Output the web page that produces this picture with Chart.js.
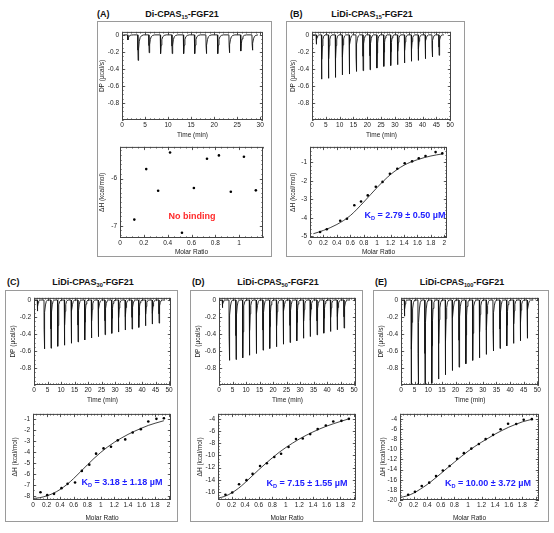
<!DOCTYPE html>
<html><head><meta charset="utf-8">
<script src="https://cdn.jsdelivr.net/npm/chart.js@4.4.1/dist/chart.umd.min.js"></script>
<style>
body{margin:0;background:#fff;width:554px;height:533px;position:relative;overflow:hidden;font-family:"Liberation Sans",Arial,sans-serif;color:#111;}
.box{position:absolute;border:1.5px solid #9a9a9a;box-sizing:border-box;}
.lbl{position:absolute;font-weight:bold;font-size:9px;line-height:1;transform:translateY(-50%);white-space:nowrap;}
.ttl{position:absolute;font-weight:bold;font-size:9px;line-height:1;transform:translate(-50%,-50%);white-space:nowrap;}
sub{font-size:62%;vertical-align:baseline;position:relative;top:0.35em;line-height:0;}
canvas{position:absolute;}
.kd{position:absolute;color:#2020ff;font-weight:bold;font-size:9px;line-height:1;transform:translate(-50%,-50%);white-space:nowrap;}
.nb{position:absolute;color:#ff2a2a;font-weight:bold;font-size:9px;line-height:1;transform:translate(-50%,-50%);white-space:nowrap;}
</style></head><body>
<div class="box" style="left:97px;top:21px;width:175px;height:236px"></div>
<div class="box" style="left:286px;top:21px;width:179px;height:236px"></div>
<div class="box" style="left:5px;top:290px;width:173px;height:232px"></div>
<div class="box" style="left:190px;top:290px;width:173px;height:232px"></div>
<div class="box" style="left:373px;top:290px;width:176px;height:232px"></div>

<div class="lbl" style="left:97px;top:14px">(A)</div>
<div class="ttl" style="left:182px;top:14px">Di-CPAS<sub>15</sub>-FGF21</div>
<div class="lbl" style="left:290px;top:14px">(B)</div>
<div class="ttl" style="left:372px;top:14px">LiDi-CPAS<sub>15</sub>-FGF21</div>
<div class="lbl" style="left:7px;top:282px">(C)</div>
<div class="ttl" style="left:93px;top:282px">LiDi-CPAS<sub>30</sub>-FGF21</div>
<div class="lbl" style="left:192px;top:282px">(D)</div>
<div class="ttl" style="left:278px;top:282px">LiDi-CPAS<sub>50</sub>-FGF21</div>
<div class="lbl" style="left:375px;top:282px">(E)</div>
<div class="ttl" style="left:462px;top:282px">LiDi-CPAS<sub>100</sub>-FGF21</div>

<script>
// ---------- DATA ----------
// Thermograms: injection times (min) and peak DP (µcal/s)
const A_TIMES = [1.2,3.4,5.8,8.3,10.8,13.3,15.7,18.2,20.7,23.2,25.7,28.2];
const A_PEAKS = [-0.06,-0.30,-0.21,-0.22,-0.22,-0.22,-0.22,-0.22,-0.22,-0.21,-0.19,-0.18];
const B_TIMES = [1.5,3.4,5.9,8.4,10.9,13.4,15.9,18.4,20.9,23.4,25.9,28.4,30.9,33.4,35.9,38.4,40.9,43.4,45.9];
const B_PEAKS = [-0.11,-0.52,-0.51,-0.50,-0.47,-0.46,-0.43,-0.42,-0.41,-0.39,-0.37,-0.36,-0.35,-0.33,-0.31,-0.30,-0.28,-0.26,-0.24];
const C_TIMES = [1.2,3.7,6.2,8.7,11.2,13.7,16.2,18.7,21.2,23.7,26.2,28.7,31.2,33.7,36.2,38.7,41.2,43.7,46.2];
const C_PEAKS = [-0.13,-0.575,-0.567,-0.544,-0.532,-0.509,-0.493,-0.47,-0.447,-0.431,-0.408,-0.392,-0.377,-0.353,-0.342,-0.322,-0.303,-0.283,-0.272];
const D_TIMES = [1.2,3.7,6.2,8.7,11.2,13.7,16.2,18.7,21.2,23.7,26.2,28.7,31.2,33.7,36.2,38.7,41.2,43.7,46.2];
const D_PEAKS = [-0.09,-0.71,-0.70,-0.68,-0.65,-0.63,-0.59,-0.57,-0.55,-0.52,-0.50,-0.48,-0.45,-0.43,-0.41,-0.39,-0.37,-0.35,-0.33];
const E_TIMES = [1.2,3.7,6.2,8.7,11.2,13.7,16.2,18.7,21.2,23.7,26.2,28.7,31.2,33.7,36.2,38.7,41.2,43.7,46.2];
const E_PEAKS = [-0.19,-1.05,-1.05,-1.05,-0.98,-0.93,-0.88,-0.83,-0.79,-0.75,-0.71,-0.68,-0.64,-0.60,-0.57,-0.54,-0.51,-0.48,-0.45];

// Isotherms: molar ratio, ΔH (kcal/mol), and fitted curve
const A_X = [0.12,0.22,0.32,0.42,0.52,0.62,0.73,0.83,0.93,1.04,1.14];
const A_Y = [-6.87,-5.80,-6.26,-5.45,-7.15,-6.20,-5.58,-5.51,-6.28,-5.54,-6.25];

const B_X = [0.15,0.25,0.45,0.55,0.66,0.76,0.86,0.98,1.08,1.19,1.30,1.41,1.52,1.62,1.72,1.87,1.97];
const B_Y = [-4.77,-4.62,-4.16,-4.05,-3.32,-3.12,-2.79,-2.32,-2.06,-1.62,-1.35,-1.05,-0.95,-0.78,-0.66,-0.45,-0.52];
const B_FIT_X = [0.05,0.2,0.4,0.6,0.8,1.0,1.2,1.4,1.6,1.8,1.97];
const B_FIT_Y = [-4.86,-4.68,-4.36,-3.88,-3.15,-2.36,-1.66,-1.16,-0.86,-0.66,-0.55];

const C_X = [0.11,0.21,0.31,0.42,0.51,0.62,0.72,0.83,0.93,1.04,1.15,1.25,1.36,1.47,1.59,1.70,1.82,1.93];
const C_Y = [-7.68,-7.95,-7.83,-7.31,-6.92,-6.80,-5.74,-5.17,-4.17,-3.69,-3.54,-2.96,-2.87,-2.24,-1.94,-1.24,-1.00,-0.94];
const C_FIT_X = [0,0.1,0.2,0.3,0.4,0.5,0.6,0.7,0.8,0.9,1.0,1.1,1.2,1.3,1.4,1.5,1.6,1.7,1.8,1.93];
const C_FIT_Y = [-8.25,-8.18,-8.02,-7.78,-7.43,-6.98,-6.43,-5.82,-5.2,-4.6,-4.05,-3.56,-3.13,-2.76,-2.42,-2.12,-1.85,-1.6,-1.4,-1.17];

const D_X = [0.11,0.21,0.31,0.42,0.51,0.62,0.72,0.83,0.93,1.04,1.15,1.25,1.36,1.47,1.59,1.70,1.82,1.93];
const D_Y = [-16.45,-16.07,-14.71,-14.05,-13.02,-11.72,-11.28,-10.25,-9.71,-8.62,-7.32,-7.21,-6.50,-5.68,-5.09,-4.43,-4.33,-4.00];
const D_FIT_X = [0,0.1,0.2,0.3,0.4,0.5,0.6,0.7,0.8,0.9,1.0,1.2,1.4,1.6,1.8,1.93];
const D_FIT_Y = [-17.0,-16.7,-16.15,-15.4,-14.45,-13.4,-12.35,-11.35,-10.4,-9.5,-8.7,-7.3,-6.15,-5.2,-4.45,-4.0];

const E_X = [0.12,0.22,0.32,0.43,0.53,0.63,0.73,0.84,0.94,1.05,1.16,1.26,1.37,1.48,1.59,1.71,1.82,1.94];
const E_Y = [-18.97,-18.39,-17.23,-16.58,-15.29,-14.19,-13.29,-11.87,-10.77,-9.87,-8.97,-8.00,-7.16,-6.06,-4.97,-5.03,-4.19,-4.06];
const E_FIT_X = [0,0.1,0.2,0.3,0.4,0.5,0.6,0.7,0.8,0.9,1.0,1.1,1.2,1.3,1.4,1.5,1.6,1.7,1.8,1.94];
const E_FIT_Y = [-19.5,-19.2,-18.65,-17.85,-16.95,-15.9,-14.8,-13.65,-12.55,-11.45,-10.4,-9.45,-8.6,-7.8,-7.0,-6.3,-5.65,-5.1,-4.6,-4.1];

// Tick labels
const DP_TICKS = [0,-0.2,-0.4,-0.6,-0.8];
const TIME_TICKS_30 = [0,5,10,15,20,25,30];
const TIME_TICKS_50 = [0,5,10,15,20,25,30,35,40,45,50];
const MR_TICKS_1 = [0,0.2,0.4,0.6,0.8,1];
const MR_TICKS_2 = [0,0.2,0.4,0.6,0.8,1,1.2,1.4,1.6,1.8,2];
const A_DH_TICKS = [-6,-7];
const B_DH_TICKS = [-1,-2,-3,-4,-5];
const C_DH_TICKS = [-1,-2,-3,-4,-5,-6,-7,-8];
const D_DH_TICKS = [-4,-6,-8,-10,-12,-14,-16];
const E_DH_TICKS = [-4,-6,-8,-10,-12,-14,-16,-18,-20];

// ---------- RENDER ----------
const FONT = "'Liberation Sans', Arial, sans-serif";
Chart.defaults.font.family = FONT;
Chart.defaults.font.size = 6.5;
Chart.defaults.color = '#222';
const LH = 6.5 * 1.2;

// spike profile (relative time, fraction of peak) used to draw each injection
const SPIKE = [[0,0],[0.05,0.6],[0.1,1],[0.2,0.55],[0.35,0.25],[0.55,0.1],[0.85,0.03],[1.3,0]];
function trace(times, peaks, t0, t1){
  const pts = [{x:t0, y:0}];
  times.forEach((t,i) => SPIKE.forEach(([dt,f]) => pts.push({x:t+dt, y:peaks[i]*f})));
  pts.push({x:t1, y:0});
  return pts;
}
function pairs(xs, ys){ return xs.map((x,i) => ({x, y:ys[i]})); }
function fmt(v){ const r = Math.round(v*1000)/1000; return (Object.is(r,-0) ? 0 : r).toString(); }

const frameTicks = {
  id:'frameTicks',
  afterDatasetsDraw(chart, args, o){
    const {ctx, chartArea:{left,right,top,bottom}, scales:{x,y}} = chart;
    ctx.save();
    ctx.strokeStyle = '#333';
    ctx.lineWidth = 0.8;
    ctx.beginPath();
    const xs = (v, len) => { const p = Math.round(x.getPixelForValue(v)) + 0.5;
      ctx.moveTo(p, bottom); ctx.lineTo(p, bottom - len); ctx.moveTo(p, top); ctx.lineTo(p, top + len); };
    const ys = (v, len) => { const p = Math.round(y.getPixelForValue(v)) + 0.5;
      ctx.moveTo(left, p); ctx.lineTo(left + len, p); ctx.moveTo(right, p); ctx.lineTo(right - len, p); };
    for (let k = Math.ceil(x.min / o.xMinor - 1e-6); k * o.xMinor <= x.max + 1e-9; k++) xs(k * o.xMinor, 1.6);
    for (let k = Math.ceil(y.min / o.yMinor - 1e-6); k * o.yMinor <= y.max + 1e-9; k++) ys(k * o.yMinor, 1.6);
    o.xMajor.forEach(v => xs(v, 3.2));
    o.yMajor.forEach(v => ys(v, 3.2));
    ctx.stroke();
    ctx.lineWidth = 1;
    ctx.strokeStyle = '#444';
    ctx.strokeRect(left + 0.5, top + 0.5, right - left - 1, bottom - top - 1);
    ctx.restore();
  }
};

function makeChart(cfg){
  const c = document.createElement('canvas');
  const left = cfg.boxL + 1;
  const top = cfg.T - 6;
  const w = cfg.R - left + 6;
  const h = cfg.B - top + cfg.xH;
  c.width = w; c.height = h;
  c.style.left = left + 'px'; c.style.top = top + 'px';
  c.style.width = w + 'px'; c.style.height = h + 'px';
  document.body.appendChild(c);
  const yW = cfg.L - left;
  new Chart(c, {
    type:'line',
    data:{datasets: cfg.datasets},
    options:{
      responsive:false, animation:false, devicePixelRatio:1,
      layout:{padding:{top:6, right:6, left:0, bottom:0}},
      plugins:{legend:{display:false}, tooltip:{enabled:false},
        frameTicks:{xMinor:cfg.xMinor, yMinor:cfg.yMinor, xMajor:cfg.xTicks, yMajor:cfg.yTicks}},
      scales:{
        x:{type:'linear', min:cfg.xMin, max:cfg.xMax,
          grid:{display:false, drawTicks:false}, border:{display:false},
          afterBuildTicks:(s) => { s.ticks = cfg.xTicks.map(v => ({value:v})); },
          afterFit:(s) => { s.height = cfg.xH; },
          ticks:{autoSkip:false, maxRotation:0, minRotation:0, padding:1.5, callback:fmt, color:'#222'},
          title:{display:true, text:cfg.xTitle, color:'#222', padding:{top:0, bottom:5 - LH/2}}},
        y:{type:'linear', min:cfg.yMin, max:cfg.yMax,
          grid:{display:false, drawTicks:false}, border:{display:false},
          afterBuildTicks:(s) => { s.ticks = cfg.yTicks.map(v => ({value:v})); },
          afterFit:(s) => { s.width = yW; },
          ticks:{autoSkip:false, padding:3, callback:fmt, color:'#222'},
          title:{display:true, text:cfg.yTitle, color:'#222', padding:{top:Math.max(0, cfg.yTitleX - left - LH/2), bottom:0}}}
      }
    },
    plugins:[frameTicks]
  });
}

function thermo(p){
  makeChart({boxL:p.boxL, L:p.L, T:p.T, R:p.R, B:p.B, xH:p.titleY - p.B + 5,
    xMin:0, xMax:p.xMax, yMin:-1.0, yMax:p.yMax, xTicks:p.xTicks, yTicks:DP_TICKS,
    xMinor:1, yMinor:0.05, xTitle:'Time (min)', yTitle:'DP (µcal/s)', yTitleX:p.yTitleX,
    datasets:[{data:trace(p.times, p.peaks, p.t0, p.t1), borderColor:'#111', borderWidth:0.9,
      pointRadius:0, tension:0, fill:false}]});
}
function iso(p){
  const ds = [];
  if (p.fitX) ds.push({data:pairs(p.fitX, p.fitY), borderColor:'#111', borderWidth:0.8,
    pointRadius:0, cubicInterpolationMode:'monotone', fill:false});
  ds.push({type:'scatter', data:pairs(p.xs, p.ys), showLine:false, pointRadius:1.3,
    pointBackgroundColor:'#000', pointBorderWidth:0});
  makeChart({boxL:p.boxL, L:p.L, T:p.T, R:p.R, B:p.B, xH:p.titleY - p.B + 5,
    xMin:0, xMax:p.xMax, yMin:p.yMin, yMax:p.yMax, xTicks:p.xTicks, yTicks:p.yTicks,
    xMinor:0.05, yMinor:p.yMinor, xTitle:'Molar Ratio', yTitle:'ΔH (kcal/mol)', yTitleX:p.yTitleX,
    datasets:ds});
}

// Panel A
thermo({boxL:97, L:122, T:31, R:263, B:120, titleY:135, xMax:30.6, yMax:0.035, xTicks:TIME_TICKS_30,
  yTitleX:102, times:A_TIMES, peaks:A_PEAKS, t0:0.3, t1:29.3});
iso({boxL:97, L:120, T:146, R:263, B:238, titleY:252, xMax:1.2, yMin:-7.26, yMax:-5.33,
  xTicks:MR_TICKS_1, yTicks:A_DH_TICKS, yMinor:0.1, yTitleX:102, xs:A_X, ys:A_Y});
// Panel B
thermo({boxL:286, L:312, T:31, R:451, B:120, titleY:135, xMax:50.3, yMax:0.035, xTicks:TIME_TICKS_50,
  yTitleX:293, times:B_TIMES, peaks:B_PEAKS, t0:0.2, t1:47.7});
iso({boxL:286, L:310, T:146, R:447, B:238, titleY:252, xMax:2.04, yMin:-5.09, yMax:-0.17,
  xTicks:MR_TICKS_2, yTicks:B_DH_TICKS, yMinor:0.2, yTitleX:293, xs:B_X, ys:B_Y, fitX:B_FIT_X, fitY:B_FIT_Y});
// Panel C
thermo({boxL:5, L:34, T:297, R:171, B:385, titleY:400, xMax:50.7, yMax:0.025, xTicks:TIME_TICKS_50,
  yTitleX:13.5, times:C_TIMES, peaks:C_PEAKS, t0:0.2, t1:48.5});
iso({boxL:5, L:33, T:413, R:171, B:500, titleY:518, xMax:2.035, yMin:-8.39, yMax:-0.55,
  xTicks:MR_TICKS_2, yTicks:C_DH_TICKS, yMinor:0.5, yTitleX:15, xs:C_X, ys:C_Y, fitX:C_FIT_X, fitY:C_FIT_Y});
// Panel D
thermo({boxL:190, L:219, T:297, R:356, B:385, titleY:400, xMax:50.7, yMax:0.025, xTicks:TIME_TICKS_50,
  yTitleX:198.5, times:D_TIMES, peaks:D_PEAKS, t0:0.2, t1:48.5});
iso({boxL:190, L:218, T:413, R:356, B:500, titleY:518, xMax:2.035, yMin:-17.3, yMax:-3.19,
  xTicks:MR_TICKS_2, yTicks:D_DH_TICKS, yMinor:0.5, yTitleX:200, xs:D_X, ys:D_Y, fitX:D_FIT_X, fitY:D_FIT_Y});
// Panel E
thermo({boxL:373, L:401, R:539, T:297, B:385, titleY:400, xMax:50.6, yMax:0.025, xTicks:TIME_TICKS_50,
  yTitleX:381.5, times:E_TIMES, peaks:E_PEAKS, t0:0.2, t1:48.5});
iso({boxL:373, L:400, T:413, R:539, B:500, titleY:518, xMax:2.045, yMin:-20.0, yMax:-3.03,
  xTicks:MR_TICKS_2, yTicks:E_DH_TICKS, yMinor:0.5, yTitleX:383, xs:E_X, ys:E_Y, fitX:E_FIT_X, fitY:E_FIT_Y});
</script>
<div class="nb" style="left:192px;top:216px">No binding</div>
<div class="kd" style="left:405px;top:215px">K<sub>D</sub> = 2.79 ± 0.50 µM</div>
<div class="kd" style="left:122px;top:482px">K<sub>D</sub> = 3.18 ± 1.18 µM</div>
<div class="kd" style="left:307px;top:483px">K<sub>D</sub> = 7.15 ± 1.55 µM</div>
<div class="kd" style="left:488px;top:483px">K<sub>D</sub> = 10.00 ± 3.72 µM</div>
</body></html>
